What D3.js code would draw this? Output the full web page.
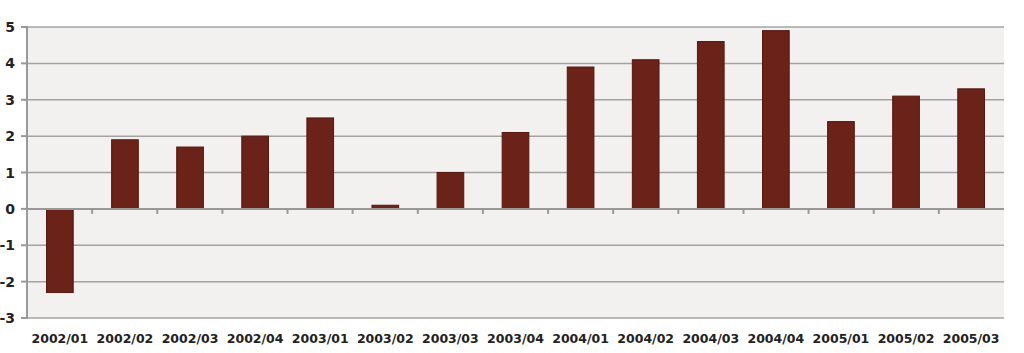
<!DOCTYPE html>
<html>
<head>
<meta charset="utf-8">
<script src="https://cdn.jsdelivr.net/npm/d3@7"></script>
<style>
  body { margin: 0; background: #fff; }
  svg text { font-family: "DejaVu Sans", sans-serif; font-weight: bold; fill: #222; }
</style>
</head>
<body>
<svg id="chart" width="1024" height="353"></svg>
<script>
// quarters and values
const quarters = ["2002/01", "2002/02", "2002/03", "2002/04", "2003/01", "2003/02", "2003/03", "2003/04",
                  "2004/01", "2004/02", "2004/03", "2004/04", "2005/01", "2005/02", "2005/03"];
const values = [-2.3, 1.9, 1.7, 2.0, 2.5, 0.1, 1.0, 2.1, 3.9, 4.1, 4.6, 4.9, 2.4, 3.1, 3.3];
const yTicks = [-3, -2, -1, 0, 1, 2, 3, 4, 5];

const svg = d3.select("#chart");
const plotLeft = 27, plotRight = 1004, plotTop = 27, plotBottom = 318;

const x = d3.scaleBand().domain(quarters).range([plotLeft, plotRight]).paddingInner(0.59).paddingOuter(0.3);
const y = d3.scaleLinear().domain([-3, 5]).range([plotBottom, plotTop]);

// plot background
svg.append("rect")
    .attr("x", plotLeft).attr("y", plotTop)
    .attr("width", plotRight - plotLeft).attr("height", plotBottom - plotTop)
    .attr("fill", "#f2f1f0");

// gridlines
svg.selectAll(".grid").data(yTicks).enter().append("line")
    .attr("x1", plotLeft).attr("x2", plotRight)
    .attr("y1", d => y(d)).attr("y2", d => y(d))
    .attr("stroke", "#a3a3a3").attr("stroke-width", 1.5);

// bars
svg.selectAll(".bar").data(values).enter().append("rect")
    .attr("x", (d, i) => x(quarters[i]))
    .attr("width", x.bandwidth())
    .attr("y", d => y(Math.max(0, d)))
    .attr("height", d => Math.abs(y(d) - y(0)))
    .attr("fill", "#6b2219")
    .attr("stroke", "#551810").attr("stroke-width", 1);

// zero axis with category ticks between bands
const boundaries = d3.range(1, quarters.length).map(i => plotLeft + (plotRight - plotLeft) * i / quarters.length);
svg.append("line")
    .attr("x1", plotLeft).attr("x2", plotRight)
    .attr("y1", y(0)).attr("y2", y(0))
    .attr("stroke", "#999").attr("stroke-width", 2);
svg.selectAll(".xtick").data(boundaries).enter().append("line")
    .attr("x1", d => d).attr("x2", d => d)
    .attr("y1", y(0)).attr("y2", y(0) + 5)
    .attr("stroke", "#999").attr("stroke-width", 2);

// left axis
svg.append("line")
    .attr("x1", plotLeft).attr("x2", plotLeft)
    .attr("y1", plotTop - 1).attr("y2", plotBottom + 1)
    .attr("stroke", "#999").attr("stroke-width", 2);
svg.selectAll(".ytick").data(yTicks).enter().append("line")
    .attr("x1", plotLeft - 6).attr("x2", plotLeft)
    .attr("y1", d => y(d)).attr("y2", d => y(d))
    .attr("stroke", "#999").attr("stroke-width", 2);

svg.selectAll(".ylabel").data(yTicks).enter().append("text")
    .attr("x", 15).attr("y", d => y(d) + 5)
    .attr("text-anchor", "end")
    .attr("font-size", 14)
    .text(d => d);

// category labels
svg.selectAll(".xlabel").data(quarters).enter().append("text")
    .attr("x", d => x(d) + x.bandwidth() / 2)
    .attr("y", 343)
    .attr("text-anchor", "middle")
    .attr("font-size", 12.5)
    .text(d => d);
</script>
</body>
</html>
